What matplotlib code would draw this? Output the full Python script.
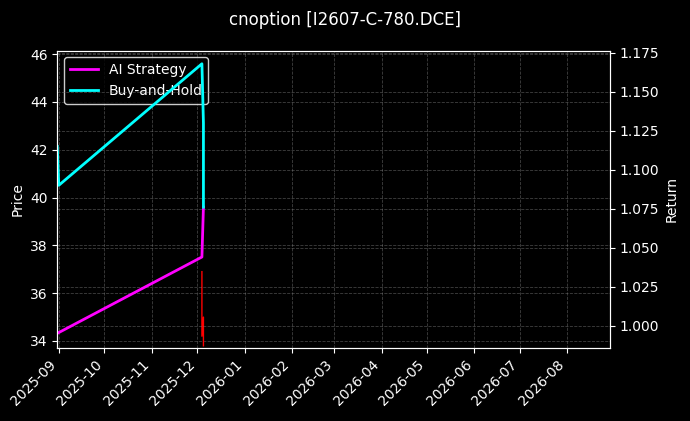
import matplotlib
matplotlib.use("Agg")
import matplotlib.pyplot as plt
import matplotlib.dates as mdates
import numpy as np
import pandas as pd

# 数据
ai_dates = pd.to_datetime(["2025-08-31", "2025-12-04", "2025-12-05"])
ai_ret = [0.995, 1.044, 1.076]
bh_dates = pd.to_datetime(["2025-08-31", "2025-09-01", "2025-12-04", "2025-12-05", "2025-12-05"])
bh_ret = [1.115, 1.090, 1.168, 1.130, 1.076]
price_dates = pd.to_datetime(["2025-12-04", "2025-12-04", "2025-12-05", "2025-12-05"])
price_vals = [36.9, 34.2, 35.0, 33.8]

plt.style.use("dark_background")
fig, ax = plt.subplots(figsize=(6.9, 4.21), dpi=100)
fig.patch.set_facecolor("black")
ax.set_facecolor("black")
ax2 = ax.twinx()

ax.plot(price_dates, price_vals, color="red", linewidth=1)
ax.set_ylim(33.7, 46.15)
ax.set_ylabel("Price")

l1, = ax2.plot(ai_dates, ai_ret, color="magenta", linewidth=2, label="AI Strategy")
l2, = ax2.plot(bh_dates, bh_ret, color="cyan", linewidth=2, label="Buy-and-Hold")
ax2.set_ylim(0.9855, 1.1765)
ax2.set_ylabel("Return")

ax.set_xlim(pd.Timestamp("2025-08-31"), pd.Timestamp("2026-08-29"))
ax.xaxis.set_major_locator(mdates.MonthLocator())
ax.xaxis.set_major_formatter(mdates.DateFormatter("%Y-%m"))
plt.setp(ax.get_xticklabels(), rotation=45, ha="right")
ax.grid(True, linestyle="--", color="gray", alpha=0.5, linewidth=0.6)
ax2.grid(True, linestyle="--", color="gray", alpha=0.5, linewidth=0.6)

ax.legend([l1, l2], ["AI Strategy", "Buy-and-Hold"], loc="upper left", facecolor="black", edgecolor="white")
fig.suptitle("cnoption [I2607-C-780.DCE]", y=0.975)
fig.subplots_adjust(left=0.083, right=0.884, top=0.88, bottom=0.173)
fig.savefig("out.png", dpi=100, facecolor="black")
